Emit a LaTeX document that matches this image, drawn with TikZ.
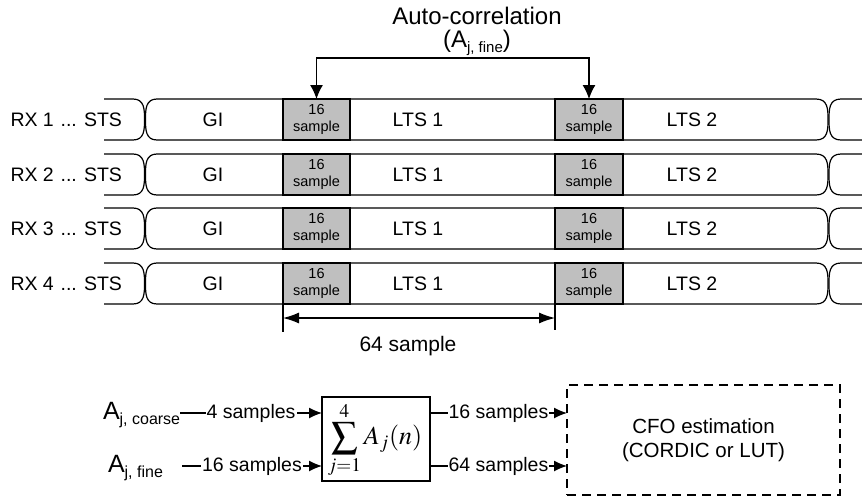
\documentclass[tikz,border=0pt]{standalone}
\usepackage{mathptmx}
\usepackage[no-math]{fontspec}
\setmainfont{Liberation Sans}
\usetikzlibrary{arrows.meta}
\begin{document}
\begin{tikzpicture}[x=1pt,y=-1pt,line width=1.2pt,
  txt/.style={inner sep=0pt,outer sep=0pt,font=\fontsize{19.5}{22}\selectfont},
  gbox/.style={draw,fill=gray!50,minimum height=41pt,inner sep=0pt,outer sep=0pt,align=center,font=\fontsize{14.5}{16.5}\selectfont},
  band/.style={draw,fill=white},
  bigarr/.style={{Latex[length=14pt,width=13pt]}-{Latex[length=14pt,width=13pt]}},
  dimarr/.style={{Latex[length=16pt,width=11pt]}-{Latex[length=16pt,width=11pt]}},
  arr/.style={-{Latex[length=13pt,width=11pt]}},
  lbl/.style={fill=white,inner sep=1pt,font=\fontsize{19.5}{22}\selectfont}]
\useasboundingbox (0,0) rectangle (862,496);

\foreach \r/\c in {1/119.5,2/174.5,3/228.5,4/283.5}{
  % STS piece
  \draw (104,\c-20.5) -- (133,\c-20.5) .. controls (144.5,\c-20.5) and (144.5,\c-10) .. (144.5,\c)
        .. controls (144.5,\c+10) and (144.5,\c+20.5) .. (133,\c+20.5) -- (104,\c+20.5);
  % main band
  \draw[band] (157,\c-20.5) -- (816,\c-20.5) .. controls (828,\c-20.5) and (828,\c-10) .. (828,\c)
        .. controls (828,\c+10) and (828,\c+20.5) .. (816,\c+20.5) -- (157,\c+20.5)
        .. controls (145.5,\c+20.5) and (145.5,\c+10) .. (145.5,\c)
        .. controls (145.5,\c-10) and (145.5,\c-20.5) .. (157,\c-20.5) -- cycle;
  % next piece
  \draw (862,\c-20.5) -- (841,\c-20.5) .. controls (829,\c-20.5) and (829,\c-10) .. (829,\c)
        .. controls (829,\c+10) and (829,\c+20.5) .. (841,\c+20.5) -- (862,\c+20.5);
  % gray boxes
  \node[gbox,minimum width=67pt] (ga\r) at (316.5,\c) {16\\sample};
  \node[gbox,minimum width=68pt] (gb\r) at (589,\c) {16\\sample};
  % texts
  \node[txt,anchor=west] (rx\r) at (10.5,\c) {RX \r};
  \node[txt,anchor=east] (sts\r) at (122,\c) {... STS};
  \node[txt] (gi\r) at (213,\c) {GI};
  \node[txt] (ltsa\r) at (418,\c) {LTS 1};
  \node[txt] (ltsb\r) at (692,\c) {LTS 2};
}

% title and auto-correlation arrow
\node[inner sep=0pt,font=\fontsize{24}{28}\selectfont] (title) at (477,16) {Auto-correlation};
\node[inner sep=0pt,font=\fontsize{24}{28}\selectfont] (afine) at (477,43)
  {(A{\fontsize{15}{15}\selectfont\raisebox{-5pt}{j, fine}})};
\draw[bigarr] (ga1.north) -- ++(0,-41) -| (gb1.north);

% 64 sample dimension
\coordinate (ta) at (283,332);
\coordinate (tb) at (555,330);
\coordinate (dy) at (0,318);
\draw (ga4.south west) -- (ta);
\draw (gb4.south west) -- (tb);
\draw[dimarr] (ga4.south west |- dy) -- (gb4.south west |- dy);
\node[txt,font=\fontsize{21}{24}\selectfont] (sixtyfour) at (408,346) {64 sample};

% bottom block
\node[draw,minimum width=108pt,minimum height=84pt,inner sep=0pt,outer sep=0pt] (sum) at (376,439) {};
\node[inner sep=0pt] (formula) at (375,440)
  {\fontsize{26}{30}\selectfont$\displaystyle\sum_{j=1}^{4}A_j(n)$};
\node[draw,dashed,dash pattern=on 9pt off 6pt,minimum width=273pt,minimum height=110pt,inner sep=0pt,outer sep=0pt,
  align=center,font=\fontsize{20.5}{24}\selectfont] (cfo) at (703.5,440)
  {CFO estimation\\(CORDIC or LUT)};

\coordinate (yc) at (0,413);
\coordinate (yf) at (0,466);
\node[txt,anchor=base west,font=\fontsize{25}{28}\selectfont] (ac) at (103,419)
  {A{\fontsize{16}{16}\selectfont\raisebox{-5pt}{j, coarse}}};
\node[txt,anchor=base west,font=\fontsize{25}{28}\selectfont] (af) at (108,472)
  {A{\fontsize{16}{16}\selectfont\raisebox{-5pt}{j, fine}}};
\coordinate (fs) at (182,466);

\draw[arr] (ac.east |- yc) -- node[lbl]{4 samples} (sum.west |- yc);
\draw[arr] (fs) -- node[lbl]{16 samples} (sum.west |- yf);
\draw[arr] (sum.east |- yc) -- node[lbl]{16 samples} (cfo.west |- yc);
\draw[arr] (sum.east |- yf) -- node[lbl]{64 samples} (cfo.west |- yf);
\end{tikzpicture}
\end{document}
